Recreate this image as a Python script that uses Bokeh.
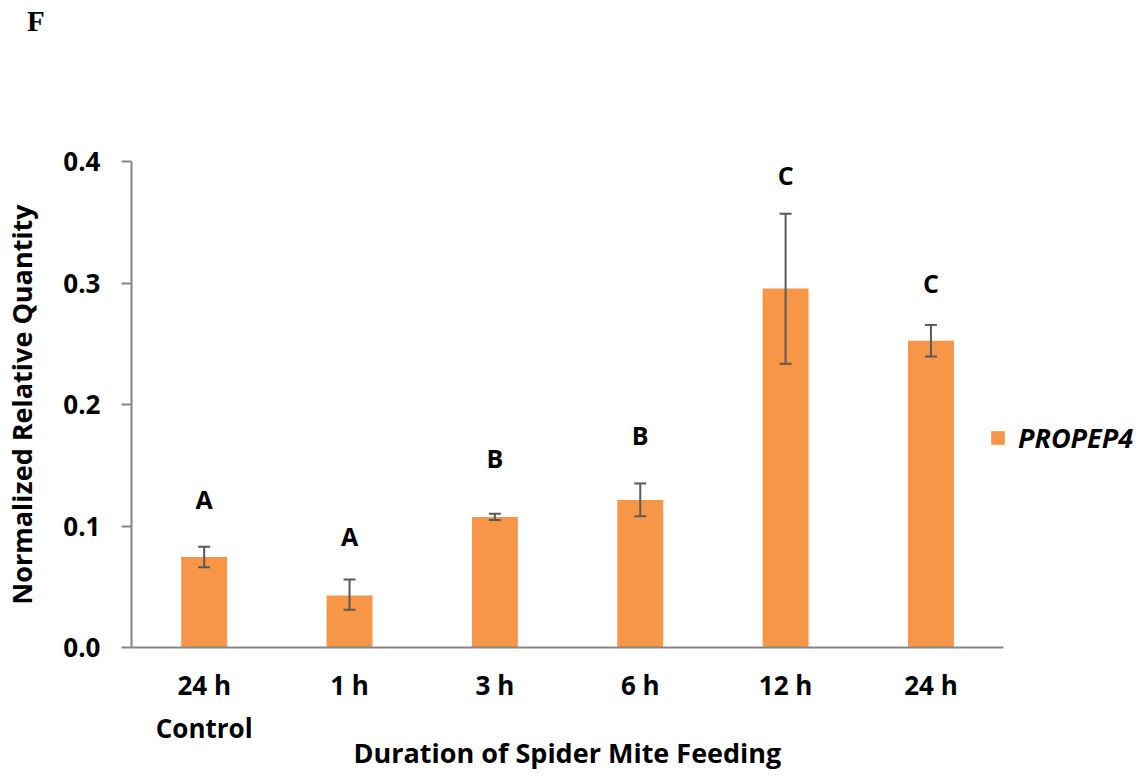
from bokeh.plotting import figure
from bokeh.models import (ColumnDataSource, Whisker, TeeHead, Legend, LegendItem,
                          FixedTicker, Range1d, Title, Div)
from bokeh.layouts import column
from bokeh.core.properties import value
from bokeh.embed import file_html
from bokeh.resources import INLINE

# ---- data ----
categories = ["24 h\nControl", "1 h", "3 h", "6 h", "12 h", "24 h"]
means = [0.0745, 0.0428, 0.1075, 0.1215, 0.2955, 0.2525]
err_upper = [0.0830, 0.0560, 0.1100, 0.1350, 0.3570, 0.2655]
err_lower = [0.0660, 0.0310, 0.1050, 0.1080, 0.2335, 0.2395]
letters = ["A", "A", "B", "B", "C", "C"]
letter_y = [0.1226, 0.0914, 0.1556, 0.1745, 0.3885, 0.2996]
y_ticks = [0.0, 0.1, 0.2, 0.3, 0.4]
series_name = "PROPEP4"
panel_letter = "F"
x_title = "Duration of Spider Mite Feeding"
y_title = "Normalized Relative Quantity"

FONT = "Open Sans"
BAR = "#F79646"
AXIS = "#868686"
ERR = "#595959"

# layout (pixels)
W, H = 1147, 776
HEAD = 40                      # height of the panel-letter strip
LEFT, RIGHT, TOP, BOTTOM = 130, 4, 161 - HEAD, 129
AXIS_PX = 873  # width of the category axis

n = len(categories)
xpos = [i + 0.5 for i in range(n)]
frame_w = W - LEFT - RIGHT
x_end = n * frame_w / AXIS_PX

src = ColumnDataSource(dict(x=xpos, mean=means, up=err_upper, lo=err_lower,
                            letter=letters, ly=letter_y))

p = figure(width=W, height=H - HEAD, x_range=Range1d(0, x_end), y_range=(0, 0.4),
           output_backend="svg", toolbar_location=None,
           min_border_left=LEFT, min_border_right=RIGHT,
           min_border_top=TOP, min_border_bottom=BOTTOM)

bars = p.vbar(x="x", top="mean", width=0.316, source=src,
              fill_color=BAR, line_color=None)

wh = Whisker(base="x", upper="up", lower="lo", source=src, level="overlay",
             line_color=ERR, line_width=2,
             upper_head=TeeHead(size=12, line_color=ERR, line_width=2),
             lower_head=TeeHead(size=12, line_color=ERR, line_width=2))
p.add_layout(wh)

p.text(x="x", y="ly", text="letter", source=src,
       text_font=value(FONT), text_font_style="bold", text_font_size="25px",
       text_align="center", text_baseline="middle", text_color="black")

# axes styling
p.grid.visible = False
p.outline_line_color = None
p.background_fill_color = "white"
p.border_fill_color = "white"

xa = p.xaxis[0]
ya = p.yaxis[0]

ya.ticker = FixedTicker(ticks=y_ticks)
ya.major_label_overrides = {t: f"{t:.1f}" for t in y_ticks}
ya.minor_tick_line_color = None
ya.major_tick_in = 0
ya.major_tick_out = 10
ya.major_tick_line_color = AXIS
ya.major_tick_line_width = 2
ya.major_label_standoff = 21
ya.axis_label = y_title
ya.axis_label_standoff = 20

xa.ticker = FixedTicker(ticks=xpos)
xa.major_label_overrides = {x: c for x, c in zip(xpos, categories)}
xa.bounds = (0, n)
xa.minor_tick_line_color = None
xa.major_tick_line_color = None
xa.major_tick_out = 0
xa.major_tick_in = 0
xa.major_label_standoff = 19

for ax in (xa, ya):
    ax.axis_line_color = AXIS
    ax.axis_line_width = 2
    ax.major_label_text_font = FONT
    ax.major_label_text_font_style = "bold"
    ax.major_label_text_font_size = "26px"
    ax.major_label_text_color = "black"
    ax.axis_label_text_font = FONT
    ax.axis_label_text_font_style = "bold"
    ax.axis_label_text_font_size = "27px"
    ax.axis_label_text_color = "black"

# x-axis title, centred under the category axis (not the whole frame)
p.add_layout(Title(text=x_title, align="left", offset=222, standoff=-34,
                   text_font=FONT, text_font_style="bold", text_font_size="27px",
                   text_color="black"), "below")

legend = Legend(items=[LegendItem(label=series_name, renderers=[bars])],
                location=(858, 191), border_line_color=None,
                background_fill_alpha=0, padding=0, margin=0,
                glyph_width=17, glyph_height=17, label_standoff=12,
                label_text_font=FONT, label_text_font_style="bold italic",
                label_text_font_size="27px", label_text_color="black")
p.add_layout(legend, "center")

# panel letter at the top left
head = Div(text=panel_letter, width=W, height=HEAD, margin=0,
           styles={"font-family": "Liberation Serif", "font-weight": "bold",
                   "font-size": "29px", "color": "black", "line-height": "33px",
                   "padding-left": "27px", "padding-top": "5px",
                   "box-sizing": "border-box"})

layout = column(head, p, spacing=0)

open("out.html", "w").write(file_html(layout, INLINE))
